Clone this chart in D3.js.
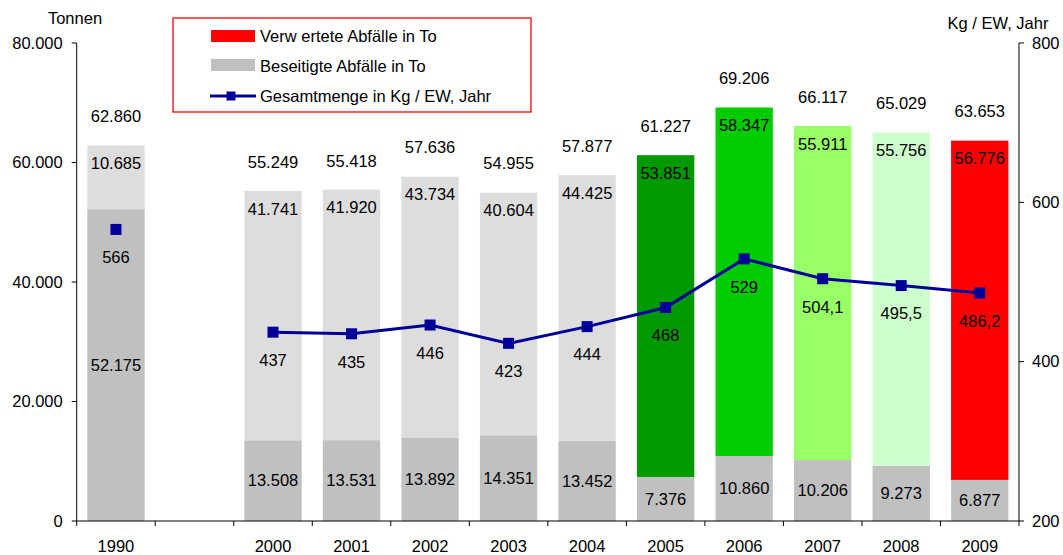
<!DOCTYPE html>
<html><head><meta charset="utf-8">
<script src="https://cdn.jsdelivr.net/npm/d3@7"></script>
<style>body{margin:0;background:#fff}svg{display:block;font-family:"Liberation Sans",Arial,sans-serif}</style>
</head><body><svg id="c" width="1063" height="555"></svg>
<script>
const categories = ["1990", "", "2000", "2001", "2002", "2003", "2004", "2005", "2006", "2007", "2008", "2009"];
const beseitigt = [52175, null, 13508, 13531, 13892, 14351, 13452, 7376, 10860, 10206, 9273, 6877];
const verwertet = [10685, null, 41741, 41920, 43734, 40604, 44425, 53851, 58347, 55911, 55756, 56776];
const gesamt = [62860, null, 55249, 55418, 57636, 54955, 57877, 61227, 69206, 66117, 65029, 63653];
const kgProEW = [566, null, 437, 435, 446, 423, 444, 468, 529, 504.1, 495.5, 486.2];
const verwertetColors = ["#dddddd", null, "#dddddd", "#dddddd", "#dddddd", "#dddddd", "#dddddd", "#009900", "#00cc00", "#99ff66", "#ccffcc", "#ff0000"];
const leftTicks = [0, 20000, 40000, 60000, 80000];
const rightTicks = [200, 400, 600, 800];
const legendLabels = ["Verw ertete Abfälle in To", "Beseitigte Abfälle in To", "Gesamtmenge in Kg / EW, Jahr"];

const de = d3.formatLocale({decimal: ",", thousands: ".", grouping: [3], currency: ["", "€"]});
const fInt = de.format(",d");
const fKg = v => Number.isInteger(v) ? de.format("d")(v) : de.format(".1f")(v);

const svg = d3.select("#c");
const L = 76.7, R = 1019, T = 43, B = 521;
const FS = 16.5;

const x = d3.scaleBand().domain(categories).range([L, R]).paddingInner(0.27).paddingOuter(0.135);
const y = d3.scaleLinear().domain([0, 80000]).range([B, T]);
const y2 = d3.scaleLinear().domain([200, 800]).range([B, T]);

const rows = categories.map((c, i) => ({c, i, b: beseitigt[i], v: verwertet[i], g: gesamt[i], k: kgProEW[i], col: verwertetColors[i]})).filter(d => d.b != null);

// bars
const g = svg.append("g");
g.selectAll("rect.b").data(rows).join("rect")
  .attr("x", d => x(d.c)).attr("width", x.bandwidth())
  .attr("y", d => y(d.b)).attr("height", d => y(0) - y(d.b)).attr("fill", "#c0c0c0");
g.selectAll("rect.v").data(rows).join("rect")
  .attr("x", d => x(d.c)).attr("width", x.bandwidth())
  .attr("y", d => y(d.b + d.v)).attr("height", d => y(d.b) - y(d.b + d.v)).attr("fill", d => d.col);

// bar labels
const cx = d => x(d.c) + x.bandwidth() / 2;
g.selectAll("text.b").data(rows).join("text")
  .attr("x", cx).attr("y", d => (y(0) + y(d.b)) / 2).attr("dy", "0.35em")
  .attr("text-anchor", "middle").attr("font-size", FS).text(d => fInt(d.b));
g.selectAll("text.v").data(rows).join("text")
  .attr("x", cx).attr("y", d => y(d.b + d.v) + 18).attr("dy", "0.35em")
  .attr("text-anchor", "middle").attr("font-size", FS).text(d => fInt(d.v));
g.selectAll("text.g").data(rows).join("text")
  .attr("x", cx).attr("y", d => y(d.g) - 29).attr("dy", "0.35em")
  .attr("text-anchor", "middle").attr("font-size", FS).text(d => fInt(d.g));

// line
const lineData = categories.map((c, i) => ({c, k: kgProEW[i]}));
const line = d3.line().defined(d => d.k != null && d.c !== "1990").x(d => x(d.c) + x.bandwidth() / 2).y(d => y2(d.k));
svg.append("path").datum(lineData).attr("d", line).attr("fill", "none").attr("stroke", "#000099").attr("stroke-width", 3);
svg.selectAll("rect.m").data(rows).join("rect")
  .attr("x", d => cx(d) - 5.5).attr("y", d => y2(d.k) - 5.5).attr("width", 11).attr("height", 11).attr("fill", "#000099");
svg.selectAll("text.k").data(rows).join("text")
  .attr("x", cx).attr("y", d => y2(d.k) + 28).attr("dy", "0.35em")
  .attr("text-anchor", "middle").attr("font-size", FS).text(d => fKg(d.k));

// axes
const ax = svg.append("g").attr("stroke", "#000").attr("stroke-width", 1);
ax.append("line").attr("x1", L).attr("x2", L).attr("y1", T).attr("y2", B);
ax.append("line").attr("x1", R).attr("x2", R).attr("y1", T).attr("y2", B);
ax.append("line").attr("x1", L).attr("x2", R).attr("y1", B).attr("y2", B);
ax.selectAll("line.lt").data(leftTicks).join("line").attr("x1", L - 5).attr("x2", L).attr("y1", d => y(d)).attr("y2", d => y(d));
ax.selectAll("line.rt").data(rightTicks).join("line").attr("x1", R).attr("x2", R + 5).attr("y1", d => y2(d)).attr("y2", d => y2(d));
const bounds = categories.map(c => x(c) - x.step() * x.paddingInner() / 2).concat([R]);
ax.selectAll("line.xt").data(bounds).join("line").attr("x1", d => d).attr("x2", d => d).attr("y1", B).attr("y2", B + 5);

svg.selectAll("text.lt").data(leftTicks).join("text")
  .attr("x", L - 14).attr("y", d => y(d)).attr("dy", "0.35em").attr("text-anchor", "end").attr("font-size", FS).text(d => fInt(d));
svg.selectAll("text.rt").data(rightTicks).join("text")
  .attr("x", R + 13).attr("y", d => y2(d)).attr("dy", "0.35em").attr("text-anchor", "start").attr("font-size", FS).text(d => d);
svg.selectAll("text.xt").data(categories).join("text")
  .attr("x", d => x(d) + x.bandwidth() / 2).attr("y", 552).attr("text-anchor", "middle").attr("font-size", FS).text(d => d);

svg.append("text").attr("x", 75).attr("y", 24).attr("text-anchor", "middle").attr("font-size", FS).text("Tonnen");
svg.append("text").attr("x", 998).attr("y", 29).attr("text-anchor", "middle").attr("font-size", FS).text("Kg / EW, Jahr");

// legend
const lg = svg.append("g");
lg.append("rect").attr("x", 173).attr("y", 18).attr("width", 358).attr("height", 94).attr("fill", "#fff").attr("stroke", "#ff0000").attr("stroke-width", 1.3);
lg.append("rect").attr("x", 211).attr("y", 30).attr("width", 44).attr("height", 12).attr("fill", "#ff0000");
lg.append("rect").attr("x", 211).attr("y", 59).attr("width", 44).attr("height", 12).attr("fill", "#c0c0c0");
lg.append("line").attr("x1", 210).attr("x2", 256).attr("y1", 96).attr("y2", 96).attr("stroke", "#000099").attr("stroke-width", 3);
lg.append("rect").attr("x", 226.5).attr("y", 91.5).attr("width", 9).attr("height", 9).attr("fill", "#000099");
lg.selectAll("text").data(legendLabels).join("text")
  .attr("x", 260).attr("y", (d, i) => 36 + i * 30).attr("dy", "0.35em").attr("font-size", FS).text(d => d);
</script></body></html>
